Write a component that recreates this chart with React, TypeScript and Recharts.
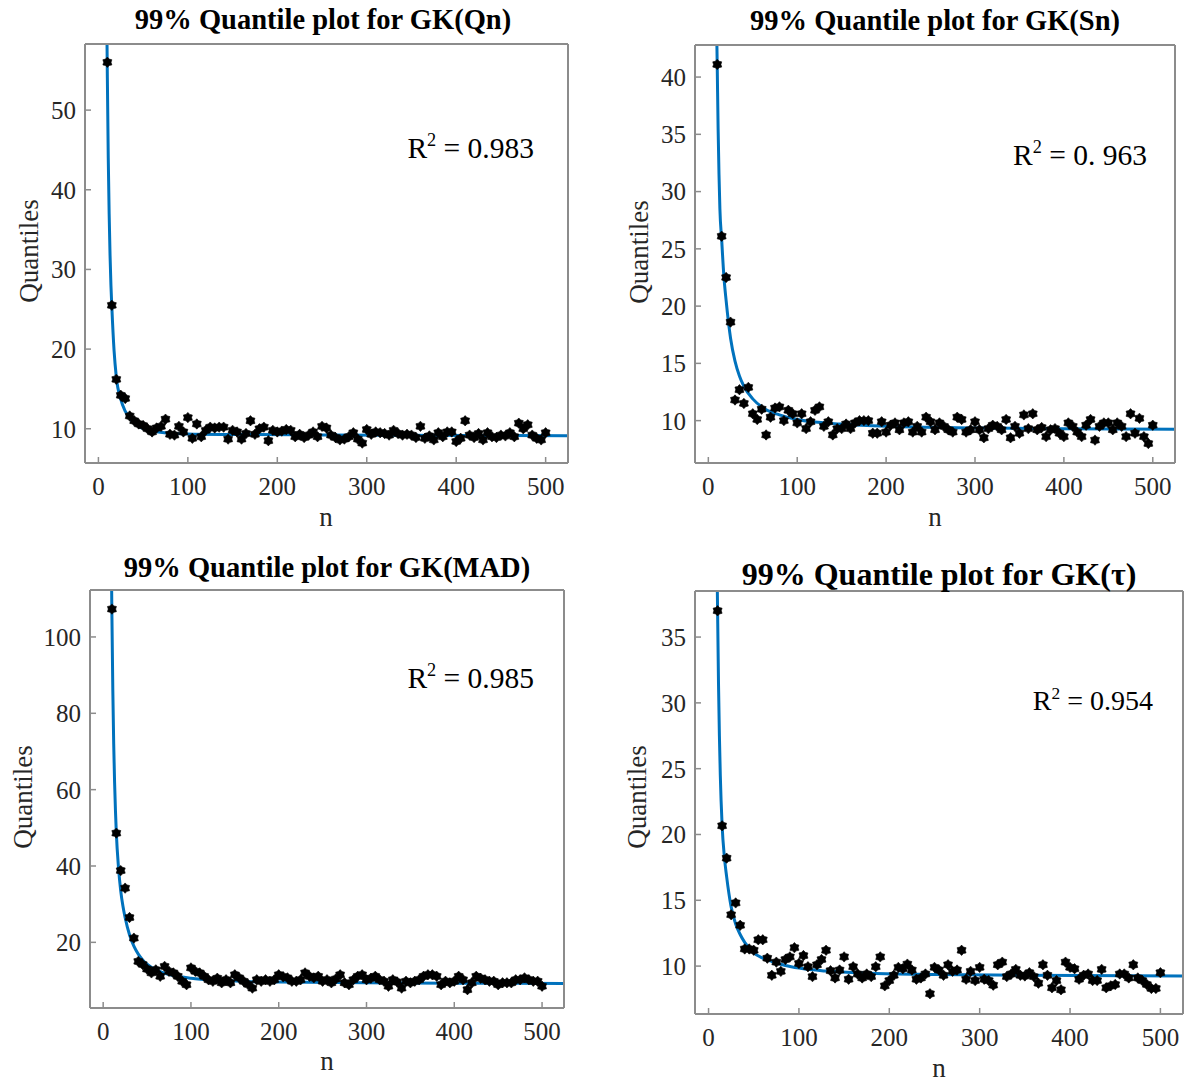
import { ComposedChart, Line, Scatter, XAxis, YAxis } from 'recharts'

const FONT = '"Liberation Serif", "Times New Roman", serif'
const BLUE = '#0072BD'
const FRAME = '#8c8c8c'
const INK = '#262626'

// sample sizes n on the x axis
const sampleSizes = [
  10, 15, 20, 25, 30, 35, 40, 45, 50, 55,
  60, 65, 70, 75, 80, 85, 90, 95, 100, 105,
  110, 115, 120, 125, 130, 135, 140, 145, 150, 155,
  160, 165, 170, 175, 180, 185, 190, 195, 200, 205,
  210, 215, 220, 225, 230, 235, 240, 245, 250, 255,
  260, 265, 270, 275, 280, 285, 290, 295, 300, 305,
  310, 315, 320, 325, 330, 335, 340, 345, 350, 355,
  360, 365, 370, 375, 380, 385, 390, 395, 400, 405,
  410, 415, 420, 425, 430, 435, 440, 445, 450, 455,
  460, 465, 470, 475, 480, 485, 490, 495, 500,
]

const qnQuantiles = [
  56.0, 25.5, 16.2, 14.2, 13.8, 11.6, 11.0, 10.6, 10.4, 10.0,
  9.6, 10.1, 10.3, 11.2, 9.3, 9.2, 10.3, 9.6, 11.4, 8.8,
  10.6, 9.0, 9.8, 10.2, 10.1, 10.2, 10.2, 8.7, 9.8, 9.6,
  8.7, 9.4, 11.0, 9.3, 10.0, 10.2, 8.5, 9.8, 9.6, 9.7,
  9.9, 9.8, 9.0, 9.3, 8.9, 9.2, 9.6, 9.0, 10.3, 10.1,
  9.2, 8.9, 8.6, 8.7, 9.0, 9.5, 8.7, 8.2, 9.9, 9.3,
  9.6, 9.5, 9.4, 9.2, 9.8, 9.4, 9.2, 9.3, 9.2, 8.9,
  10.3, 8.8, 9.1, 8.6, 9.5, 9.0, 9.6, 9.6, 8.4, 8.8,
  11.0, 9.2, 8.9, 9.4, 8.6, 9.5, 9.0, 8.9, 9.2, 9.1,
  9.5, 9.0, 10.7, 10.0, 10.5, 9.2, 8.8, 8.6, 9.5,
]

const snQuantiles = [
  41.1, 26.1, 22.5, 18.6, 11.8, 12.7, 11.5, 12.9, 10.6, 10.1,
  11.0, 8.75, 10.3, 11.1, 11.2, 10.0, 10.9, 10.6, 9.8, 10.6,
  9.3, 9.9, 10.9, 11.2, 9.5, 9.9, 8.75, 9.3, 9.3, 9.7,
  9.3, 9.8, 10.0, 10.0, 10.0, 8.9, 8.9, 9.9, 9.0, 9.6,
  9.8, 9.2, 9.8, 9.9, 9.0, 9.5, 9.0, 10.3, 9.9, 9.2,
  9.8, 9.5, 9.2, 9.0, 10.3, 10.1, 9.0, 9.2, 9.9, 9.2,
  8.5, 9.3, 9.6, 9.5, 9.2, 10.1, 8.5, 9.5, 8.9, 10.5,
  9.3, 10.6, 9.2, 9.4, 8.6, 9.2, 9.3, 8.9, 8.6, 9.8,
  9.5, 9.0, 8.6, 9.6, 10.1, 8.3, 9.5, 9.8, 9.8, 9.2,
  9.8, 9.5, 8.6, 10.6, 8.9, 10.2, 8.6, 8.0, 9.6,
]

const madQuantiles = [
  107.3, 48.6, 38.8, 34.2, 26.5, 21.1, 15.0, 14.2, 13.0, 12.0,
  12.8, 11.1, 13.7, 12.4, 12.0, 11.1, 9.8, 8.9, 13.3, 12.4,
  12.0, 11.1, 10.2, 9.8, 10.6, 9.4, 10.2, 9.4, 11.5, 10.7,
  9.8, 9.0, 8.0, 10.2, 9.8, 10.2, 9.8, 10.2, 11.5, 11.0,
  10.7, 9.8, 9.8, 10.2, 12.0, 11.1, 10.7, 11.1, 9.8, 10.2,
  9.4, 10.4, 11.5, 9.4, 8.9, 10.2, 11.1, 11.5, 10.2, 10.6,
  11.1, 10.2, 9.8, 8.5, 10.2, 9.6, 8.0, 9.8, 9.4, 9.8,
  10.2, 11.1, 11.5, 11.5, 11.1, 8.9, 9.8, 9.4, 9.8, 11.1,
  10.2, 7.6, 9.4, 11.1, 10.6, 10.2, 9.8, 9.8, 8.9, 9.4,
  9.4, 9.4, 10.2, 10.2, 10.7, 10.2, 9.8, 9.8, 8.5,
]

const tauQuantiles = [
  37.0, 20.66, 18.2, 13.9, 14.8, 13.1, 11.3, 11.3, 11.2, 12.0,
  12.0, 10.6, 9.3, 10.3, 9.6, 10.5, 10.7, 11.4, 10.2, 10.8,
  9.95, 9.2, 10.1, 10.5, 11.2, 9.65, 9.1, 9.7, 10.7, 9.0,
  9.95, 9.4, 9.1, 9.4, 9.2, 9.95, 10.7, 8.5, 8.9, 9.3,
  9.9, 9.8, 10.15, 9.7, 9.0, 9.1, 9.4, 7.9, 9.9, 9.7,
  9.3, 10.1, 9.6, 9.7, 11.2, 9.0, 9.6, 8.9, 9.9, 9.0,
  8.9, 8.55, 10.1, 10.3, 9.2, 9.4, 9.75, 9.3, 9.25, 9.5,
  9.2, 8.7, 10.1, 9.3, 8.35, 8.9, 8.2, 10.3, 9.9, 9.8,
  9.0, 9.3, 9.4, 8.9, 8.9, 9.75, 8.35, 8.5, 8.6, 9.4,
  9.4, 9.1, 10.1, 9.1, 8.9, 8.6, 8.3, 8.3, 9.5,
]

// fitted curves
const qnFitN = [8.5, 9, 10, 11, 12, 13, 14, 15, 17.5, 20, 25, 30, 35, 40, 50, 60, 80, 100, 150, 250, 525]
const qnFit = [74, 66, 54, 44, 37, 31.8, 28, 25.3, 19.8, 16.5, 13.7, 12.2, 11.3, 10.7, 10.0, 9.7, 9.45, 9.35, 9.28, 9.22, 9.12]

const snFitN = [9, 10, 11, 12, 13, 15, 17.5, 20, 25, 30, 35, 40, 50, 60, 80, 100, 150, 200, 300, 400, 525]
const snFit = [46, 41, 35.5, 31.5, 28.5, 25.8, 22.6, 20.5, 17.2, 15.2, 13.9, 13.0, 11.9, 11.2, 10.5, 10.1, 9.7, 9.5, 9.36, 9.3, 9.25]

const madFitN = [8.5, 9, 10, 11, 12, 13, 14, 15, 17.5, 20, 22.5, 25, 30, 35, 40, 45, 50, 60, 70, 80, 100, 130, 160, 200, 300, 400, 525]
const madFit = [150, 130, 105, 86, 72, 62, 54.5, 48.6, 39.5, 33.5, 29.5, 26.5, 22, 19, 16.9, 15.4, 14.3, 12.8, 11.9, 11.3, 10.6, 10.05, 9.75, 9.58, 9.4, 9.3, 9.22]

const tauFitN = [8.5, 9, 10, 11, 12, 13, 15, 17.5, 20, 25, 30, 35, 40, 50, 60, 70, 85, 100, 130, 180, 250, 350, 525]
const tauFit = [48, 43, 37, 31.5, 27.5, 24.5, 20.7, 18.3, 16.8, 14.5, 13.2, 12.4, 11.8, 11.0, 10.6, 10.35, 10.05, 9.85, 9.62, 9.45, 9.36, 9.3, 9.25]

const xTicks = [0, 100, 200, 300, 400, 500]
const qnTicks = [10, 20, 30, 40, 50]
const snTicks = [10, 15, 20, 25, 30, 35, 40]
const madTicks = [20, 40, 60, 80, 100]
const tauTicks = [10, 15, 20, 25, 30, 35]

const panels = [
  {
    key: 'qn', values: qnQuantiles, fitN: qnFitN, fit: qnFit,
    yDomain: [5.7, 58.3], yTicks: qnTicks,
    frame: { l: 85, t: 44, r: 568, b: 463 },
  },
  {
    key: 'sn', values: snQuantiles, fitN: snFitN, fit: snFit,
    yDomain: [6.3, 42.8], yTicks: snTicks,
    frame: { l: 695, t: 45, r: 1175, b: 463 },
  },
  {
    key: 'mad', values: madQuantiles, fitN: madFitN, fit: madFit,
    yDomain: [2.8, 112.3], yTicks: madTicks,
    frame: { l: 90, t: 590, r: 564, b: 1008 },
  },
  {
    key: 'tau', values: tauQuantiles, fitN: tauFitN, fit: tauFit,
    yDomain: [6.36, 38.5], yTicks: tauTicks,
    frame: { l: 695, t: 591, r: 1183, b: 1014 },
  },
]

const Star = (props: any) => {
  const { cx, cy } = props
  if (cx == null || cy == null) return null
  const pts: string[] = []
  for (let k = 0; k < 12; k++) {
    const a = (Math.PI / 6) * k - Math.PI / 2
    const r = k % 2 === 0 ? 5.2 : 3.7
    pts.push(`${cx + r * Math.cos(a)},${cy + r * Math.sin(a)}`)
  }
  return <polygon points={pts.join(' ')} fill="#000" stroke="#000" strokeWidth={0.6} />
}

function QuantilePanel({ p }: { p: (typeof panels)[number] }) {
  const { l, t, r, b } = p.frame
  const padL = 70
  const padT = 10
  const padR = 10
  const padB = 60
  const points = sampleSizes.map((n, i) => ({ n, q: p.values[i] }))
  const curve = p.fitN.map((n, i) => ({ n, q: p.fit[i] }))
  const tickStyle = { fontSize: 25, fill: INK, fontFamily: FONT }
  const line = { stroke: FRAME, strokeWidth: 2 }
  const tickLine = { stroke: FRAME, strokeWidth: 1.5 }

  return (
    <div style={{ position: 'absolute', left: l - padL, top: t - padT }}>
      <ComposedChart
        width={r - l + padL + padR}
        height={b - t + padT + padB}
        margin={{ top: padT - 1, right: padR - 1, bottom: 0, left: padL - 60 }}
      >
        <XAxis
          xAxisId="b" type="number" dataKey="n" domain={[-15, 525]} ticks={xTicks}
          allowDataOverflow interval={0} height={padB} tickSize={-6} tickMargin={20}
          tick={tickStyle} axisLine={line} tickLine={tickLine}
        />
        <XAxis
          xAxisId="t" orientation="top" type="number" dataKey="n" domain={[-15, 525]} ticks={xTicks}
          allowDataOverflow interval={0} height={1} tickSize={-6} tick={false}
          axisLine={line} tickLine={tickLine}
        />
        <YAxis
          yAxisId="l" type="number" dataKey="q" domain={p.yDomain} ticks={p.yTicks}
          allowDataOverflow interval={0} width={60} tickSize={-6} tickMargin={15}
          tick={tickStyle} axisLine={line} tickLine={tickLine}
        />
        <YAxis
          yAxisId="r" orientation="right" type="number" dataKey="q" domain={p.yDomain} ticks={p.yTicks}
          allowDataOverflow interval={0} width={1} tickSize={-6} tick={false}
          axisLine={line} tickLine={tickLine}
        />
        <Scatter xAxisId="b" yAxisId="l" data={points} dataKey="q" shape={<Star />} isAnimationActive={false} />
        <Line
          xAxisId="b" yAxisId="l" data={curve} dataKey="q" type="monotone"
          stroke={BLUE} strokeWidth={3} dot={false} activeDot={false} isAnimationActive={false}
        />
      </ComposedChart>
    </div>
  )
}

const R2 = ({ x, y, value, size }: { x: number; y: number; value: string; size: number }) => (
  <text x={x} y={y} textAnchor="end" fontFamily={FONT} fontSize={size} fill="#000">
    R
    <tspan fontSize={size * 0.62} dy={-size * 0.4}>2</tspan>
    <tspan dy={size * 0.4}>{` = ${value}`}</tspan>
  </text>
)

export default function App() {
  return (
    <div style={{ position: 'absolute', left: 0, top: 0, width: 1189, height: 1082, background: '#fff' }}>
      {panels.map((p) => (
        <QuantilePanel key={p.key} p={p} />
      ))}
      <svg width={1189} height={1082} style={{ position: 'absolute', left: 0, top: 0, pointerEvents: 'none' }}>
        <g fontFamily={FONT} fontWeight="bold" fill="#000" textAnchor="middle">
          <text x={323} y={29} fontSize={28.5}>99% Quantile plot for GK(Qn)</text>
          <text x={935} y={30} fontSize={28.5}>99% Quantile plot for GK(Sn)</text>
          <text x={327} y={577} fontSize={28.5}>99% Quantile plot for GK(MAD)</text>
          <text x={939} y={585} fontSize={32}>99% Quantile plot for GK(τ)</text>
        </g>
        <g fontFamily={FONT} fontSize={27} fill={INK} textAnchor="middle">
          <text x={326} y={526}>n</text>
          <text x={935} y={526}>n</text>
          <text x={327} y={1070}>n</text>
          <text x={939} y={1077}>n</text>
          <text transform="translate(38,251) rotate(-90)">Quantiles</text>
          <text transform="translate(648,252) rotate(-90)">Quantiles</text>
          <text transform="translate(32,797) rotate(-90)">Quantiles</text>
          <text transform="translate(646,797) rotate(-90)">Quantiles</text>
        </g>
        <R2 x={534} y={158} value="0.983" size={29.5} />
        <R2 x={1147} y={165} value="0. 963" size={29.5} />
        <R2 x={534} y={688} value="0.985" size={29.5} />
        <R2 x={1153} y={710} value="0.954" size={28} />
      </svg>
    </div>
  )
}
